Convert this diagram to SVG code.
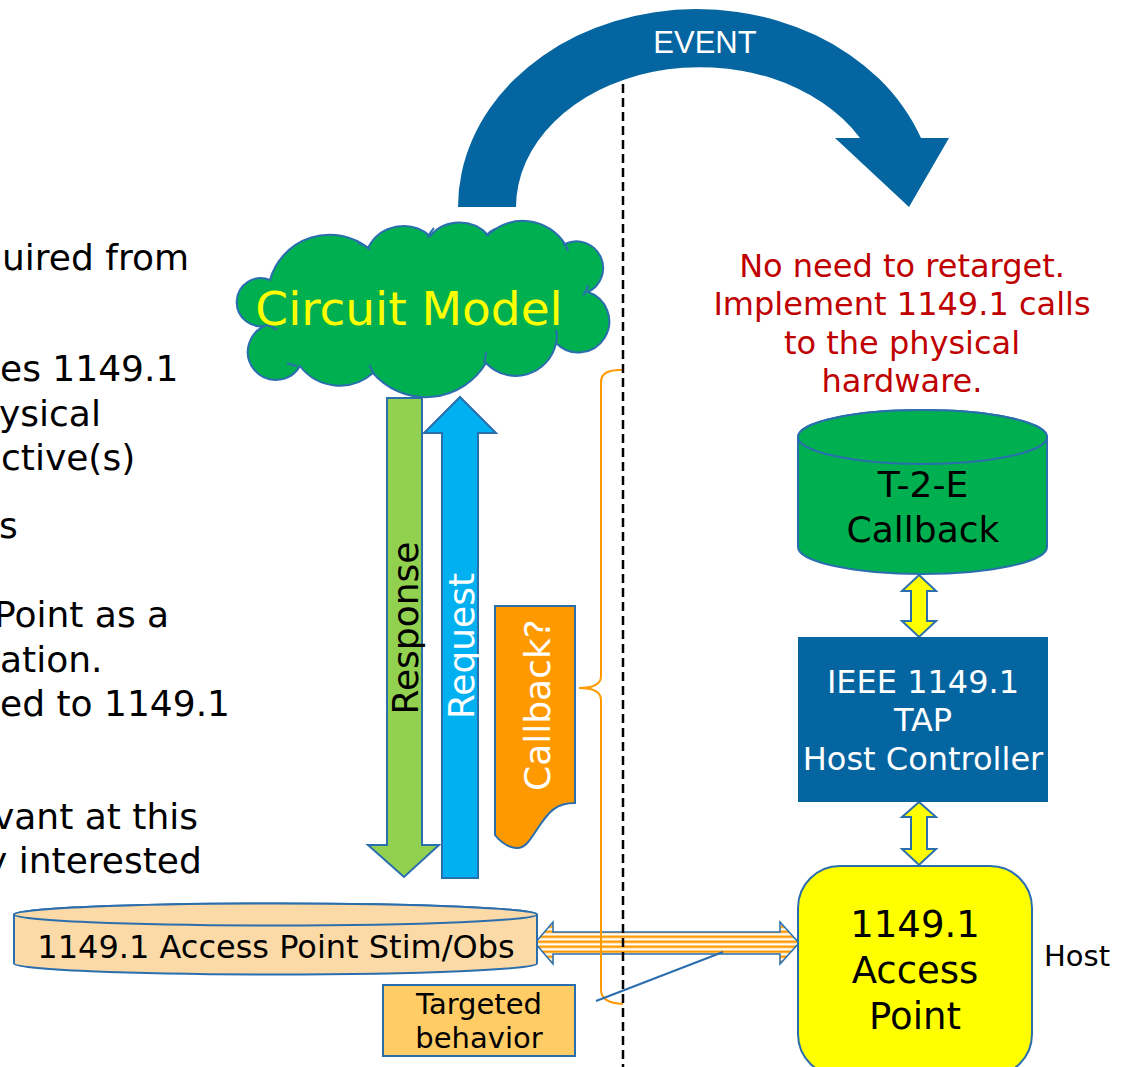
<svg xmlns="http://www.w3.org/2000/svg" width="1125" height="1067" viewBox="0 0 1125 1067">
<defs>
<style>
.t{font-family:"DejaVu Sans","Verdana",sans-serif;}
.left{font-size:36px;fill:#000;}
.ol{stroke:#2A6EAE;stroke-width:2;}
.fold{fill:none;stroke:#2A6EAE;stroke-width:2;}
.red{font-size:32px;fill:#C00000;text-anchor:middle;}
.mid{text-anchor:middle;}
</style>
<pattern id="stripes" width="10" height="5" patternUnits="userSpaceOnUse" y="0.5">
<rect width="10" height="5" fill="#FFFFFF"/>
<rect width="10" height="2.5" fill="#FF9900"/>
</pattern>
</defs>
<rect width="1125" height="1067" fill="#FFFFFF"/>

<g id="left-text" class="t left">
<text x="2" y="270">uired from</text>
<text x="0" y="381">es 1149.1</text>
<text x="-1" y="425.5">ysical</text>
<text x="1" y="470">ctive(s)</text>
<text x="-1" y="538">s</text>
<text x="-6" y="627">Point as a</text>
<text x="0" y="671.5">ation.</text>
<text x="0" y="716">ed to 1149.1</text>
<text x="-7" y="829">vant at this</text>
<text x="-14" y="873">y interested</text>
</g>

<g id="connectors">
<path id="stim-arrow" d="M535,943 L553,922 L553,932 L780,932 L780,922 L799,943 L780,964 L780,954 L553,954 L553,964 Z" fill="url(#stripes)" stroke="#2A6EAE" stroke-width="1.5"/>
<path id="brace" d="M623,370 Q601,369 601,382 L601,676 Q601,688 579,688 Q601,688 601,700 L601,990 Q601,1003 623,1004" fill="none" stroke="#FF9900" stroke-width="2"/>
<line id="target-line" x1="596" y1="1001" x2="723" y2="952" stroke="#2A6EAE" stroke-width="2"/>
<line id="divider" x1="623" y1="70" x2="623" y2="1067" stroke="#000" stroke-width="2.5" stroke-dasharray="9,5"/>
<path id="event-arrow" d="M458,207 A239,198 0 0 1 921,138 L949,138 L909,207 L835,138 L860,138 A184,140 0 0 0 516,207 Z" fill="#0565A0"/>
<text x="705" y="53" font-family="Liberation Sans, Arial, sans-serif" font-size="31" fill="#FFFFFF" text-anchor="middle">EVENT</text>
<path id="response-arrow" d="M387,398 L422,398 L422,845 L439,845 L404,877 L368,845 L387,845 Z" fill="#92D050" class="ol" stroke-width="1.5"/>
<text class="t" font-size="36" fill="#000" text-anchor="middle" transform="translate(418,628) rotate(-90)">Response</text>
<path id="request-arrow" d="M442,878 L478,878 L478,433 L496,433 L460,397 L424,433 L442,433 Z" fill="#00B0F0" class="ol" stroke-width="1.5"/>
<text class="t" font-size="36" fill="#FFFFFF" text-anchor="middle" transform="translate(474,646) rotate(-90)">Request</text>
<path id="arrow-t2e-tap" d="M919,575 L936,591 L927,591 L927,621 L936,621 L919,637 L902,621 L911,621 L911,591 L902,591 Z" fill="#FFFF00" class="ol" stroke-width="1.5"/>
<path id="arrow-tap-ap" d="M919,802 L936,817 L927,817 L927,849 L936,849 L919,865 L902,849 L911,849 L911,817 L902,817 Z" fill="#FFFF00" class="ol" stroke-width="1.5"/>
</g>

<g id="circuit-model">
<path d="M270,280 A62,62 0 0 1 368,248 A40,40 0 0 1 430,236 A39,39 0 0 1 488,235 A50,50 0 0 1 565,244 A26,26 0 0 1 588,292 A31,31 0 1 1 556,343 A41,41 0 0 1 486,363 A70,70 0 0 1 373,373 A50,50 0 0 1 300,366 A28,28 0 1 1 268,325 A24,24 0 1 1 270,280 Z" fill="#00B050" class="ol"/>
<path class="fold" d="M358,243 Q366,245 370,250"/>
<path class="fold" d="M428,238 Q430,232 434,228"/>
<path class="fold" d="M486,236 Q490,231 495,229"/>
<path class="fold" d="M563,243 Q567,246 568,251"/>
<path class="fold" d="M583,295 Q587,291 588,285"/>
<path class="fold" d="M556,343 Q558,337 556,330"/>
<path class="fold" d="M484,363 Q486,358 486,352"/>
<path class="fold" d="M373,373 Q372,369 369,365"/>
<path class="fold" d="M297,366 Q291,365 287,363"/>
<path class="fold" d="M268,325 Q273,327 277,330"/>
<text x="409" y="325" class="t mid" font-size="47" fill="#FFFF00">Circuit Model</text>
</g>

<g id="callback-q">
<path d="M495,606 L575,606 L575,803 C556,803 549,812 540,825 C531,838 526,849 516,848 C506,847 499,840 495,835 Z" fill="#FF9900" class="ol"/>
<text class="t" font-size="36" fill="#FFFFFF" text-anchor="middle" transform="translate(550,705) rotate(-90)">Callback?</text>
</g>

<g id="stim-obs">
<path d="M14,914.5 L14,963.5 A261.5,11 0 0 0 537,963.5 L537,914.5 A261.5,11 0 0 0 14,914.5 Z" fill="#FCDAA7" class="ol"/>
<ellipse cx="275.5" cy="914.5" rx="261.5" ry="11" fill="#FCDAA7" class="ol"/>
<text x="276" y="958" class="t mid" font-size="32" fill="#000">1149.1 Access Point Stim/Obs</text>
</g>

<g id="targeted-behavior">
<rect x="383" y="985" width="192" height="71" fill="#FFCC66" class="ol"/>
<text x="479" y="1014" class="t mid" font-size="29" fill="#000">Targeted</text>
<text x="479" y="1048" class="t mid" font-size="29" fill="#000">behavior</text>
</g>

<g id="note">
<text x="902" y="277" class="t red">No need to retarget.</text>
<text x="902" y="315" class="t red">Implement 1149.1 calls</text>
<text x="902" y="354" class="t red">to the physical</text>
<text x="902" y="392" class="t red">hardware.</text>
</g>

<g id="t2e-callback">
<path d="M798,437 L798,547 A124.5,27 0 0 0 1047,547 L1047,437 A124.5,27 0 0 0 798,437 Z" fill="#00B050" class="ol"/>
<ellipse cx="922.5" cy="437" rx="124.5" ry="27" fill="#00B050" class="ol"/>
<text x="923" y="497" class="t mid" font-size="36" fill="#000">T-2-E</text>
<text x="923" y="542" class="t mid" font-size="36" fill="#000">Callback</text>
</g>

<g id="tap-controller">
<rect x="798" y="637" width="250" height="165" fill="#0565A0"/>
<text x="923" y="693" class="t mid" font-size="32" fill="#FFFFFF">IEEE 1149.1</text>
<text x="923" y="731" class="t mid" font-size="32" fill="#FFFFFF">TAP</text>
<text x="923" y="770" class="t mid" font-size="32" fill="#FFFFFF">Host Controller</text>
</g>

<g id="access-point">
<rect x="798" y="866" width="234" height="210" rx="42" ry="42" fill="#FFFF00" class="ol"/>
<text x="915" y="937" class="t mid" font-size="37" fill="#000">1149.1</text>
<text x="915" y="983" class="t mid" font-size="37" fill="#000">Access</text>
<text x="915" y="1029" class="t mid" font-size="37" fill="#000">Point</text>
</g>

<g id="host-label">
<text x="1044" y="966" class="t" font-size="29" fill="#000">Host</text>
</g>
</svg>
